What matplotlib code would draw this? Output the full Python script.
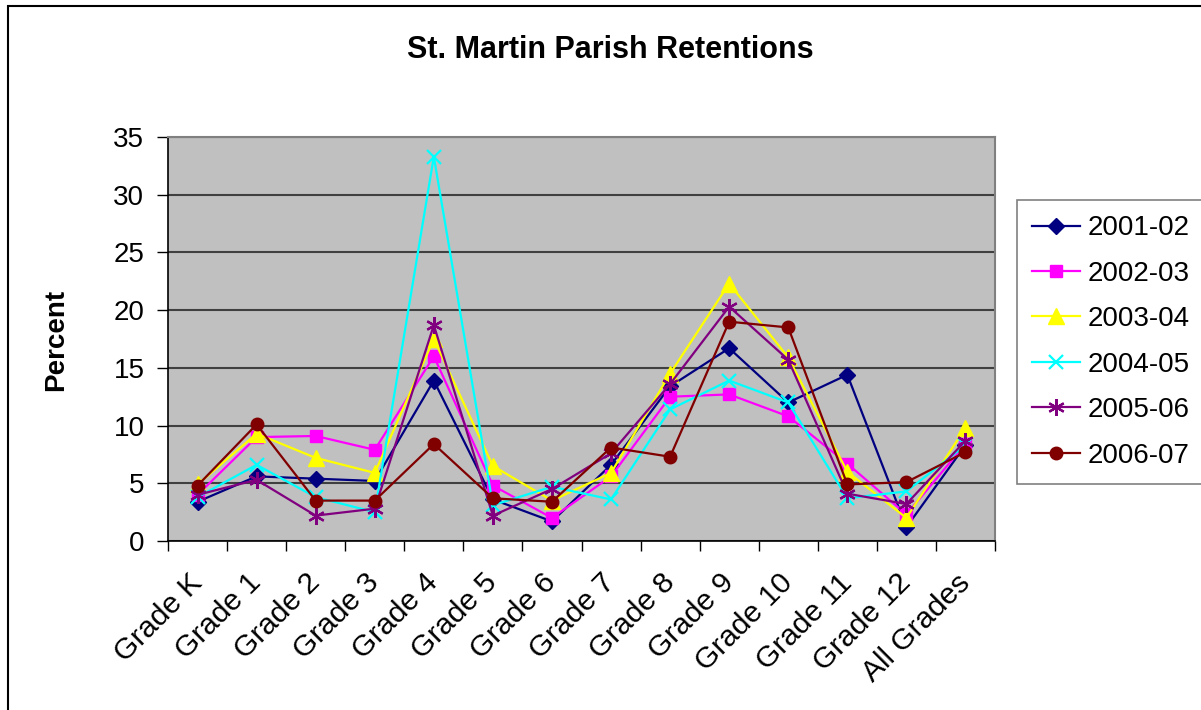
from matplotlib import pyplot as plt
from matplotlib.patches import Rectangle

plt.rcParams['font.family'] = ['Liberation Sans', 'DejaVu Sans']

grades = ['Grade K', 'Grade 1', 'Grade 2', 'Grade 3', 'Grade 4', 'Grade 5', 'Grade 6',
          'Grade 7', 'Grade 8', 'Grade 9', 'Grade 10', 'Grade 11', 'Grade 12', 'All Grades']

y2001_02 = [3.4, 5.6, 5.4, 5.2, 13.9, 3.6, 1.7, 6.6, 13.4, 16.7, 12.0, 14.4, 1.2, 8.3]
y2002_03 = [4.0, 9.0, 9.1, 7.9, 16.0, 4.8, 2.0, 5.6, 12.5, 12.7, 10.8, 6.7, 2.3, 8.4]
y2003_04 = [4.9, 9.3, 7.2, 5.9, 17.5, 6.5, 3.5, 5.9, 14.5, 22.3, 15.9, 6.0, 2.0, 9.8]
y2004_05 = [3.8, 6.6, 3.8, 2.5, 33.3, 3.1, 4.7, 3.6, 11.4, 13.9, 12.0, 3.7, 4.3, 8.3]
y2005_06 = [4.0, 5.3, 2.2, 2.8, 18.7, 2.2, 4.5, 7.6, 13.6, 20.3, 15.7, 4.1, 3.2, 8.7]
y2006_07 = [4.8, 10.1, 3.5, 3.5, 8.4, 3.7, 3.4, 8.1, 7.3, 19.0, 18.5, 4.9, 5.1, 7.7]

series = [
    ('2001-02', y2001_02, '#000080', 'D', 8),
    ('2002-03', y2002_03, '#FF00FF', 's', 9),
    ('2003-04', y2003_04, '#FFFF00', '^', 11),
    ('2004-05', y2004_05, '#00FFFF', 'x', 10),
    ('2005-06', y2005_06, '#800080', (6, 2, 0), 12),
    ('2006-07', y2006_07, '#800000', 'o', 9),
]

fig = plt.figure(figsize=(12.01, 7.10), dpi=100)
ax = fig.add_axes([168 / 1201, 1 - 541 / 710, 827 / 1201, 404 / 710])
ax.set_facecolor('#C0C0C0')

x = range(len(grades))
for name, vals, col, mk, ms in series:
    ax.plot(x, vals, color=col, lw=1.6, marker=mk, markersize=ms,
            markeredgewidth=1.6 if mk in ('x', (6, 2, 0)) else 1,
            markerfacecolor=col, markeredgecolor=col, label=name)

ax.set_xlim(-0.5, len(grades) - 0.5)
ax.set_ylim(0, 35)
ax.set_yticks(range(0, 36, 5))
ax.yaxis.grid(True, color='#404040', lw=1.5)
ax.set_axisbelow(True)

# category boundaries carry the tick marks, labels sit on the centres
ax.set_xticks([i + 0.5 for i in range(-1, len(grades))], minor=False)
ax.set_xticklabels([])
ax.set_xticks(list(x), minor=True)
ax.set_xticklabels(grades, minor=True, rotation=45, ha='right', va='center',
                   rotation_mode='anchor', fontsize=21.5)
ax.tick_params(axis='x', which='major', length=7, width=1, color='black')
ax.tick_params(axis='x', which='minor', length=0, pad=27)
ax.tick_params(axis='y', length=8, width=1, labelsize=20, pad=9)

for s in ('top', 'right'):
    ax.spines[s].set_color('#808080')
    ax.spines[s].set_linewidth(1.5)
for s in ('left', 'bottom'):
    ax.spines[s].set_color('black')
    ax.spines[s].set_linewidth(1.2)

fig.text(610 / 1201, 1 - 50 / 710, 'St. Martin Parish Retentions', ha='center', va='center',
         fontsize=22, fontweight='bold')
fig.text(56 / 1201, 1 - 340 / 710, 'Percent', rotation=90, ha='center', va='center',
         fontsize=20, fontweight='bold')

leg = fig.legend(loc='upper left', bbox_to_anchor=(1017 / 1201, 1 - 200 / 710),
                 fontsize=20, frameon=True, fancybox=False, handlelength=1.7,
                 handletextpad=0.3, labelspacing=0.7, borderpad=0.55, borderaxespad=0)
leg.get_frame().set_edgecolor('#606060')
leg.get_frame().set_linewidth(1.2)

fig.patches.append(Rectangle((8 / 1201, -0.1), 1.2, 0.1 + 1 - 6 / 710, transform=fig.transFigure,
                             fill=False, edgecolor='black', lw=1.5))

fig.savefig('out.png', dpi=100)
